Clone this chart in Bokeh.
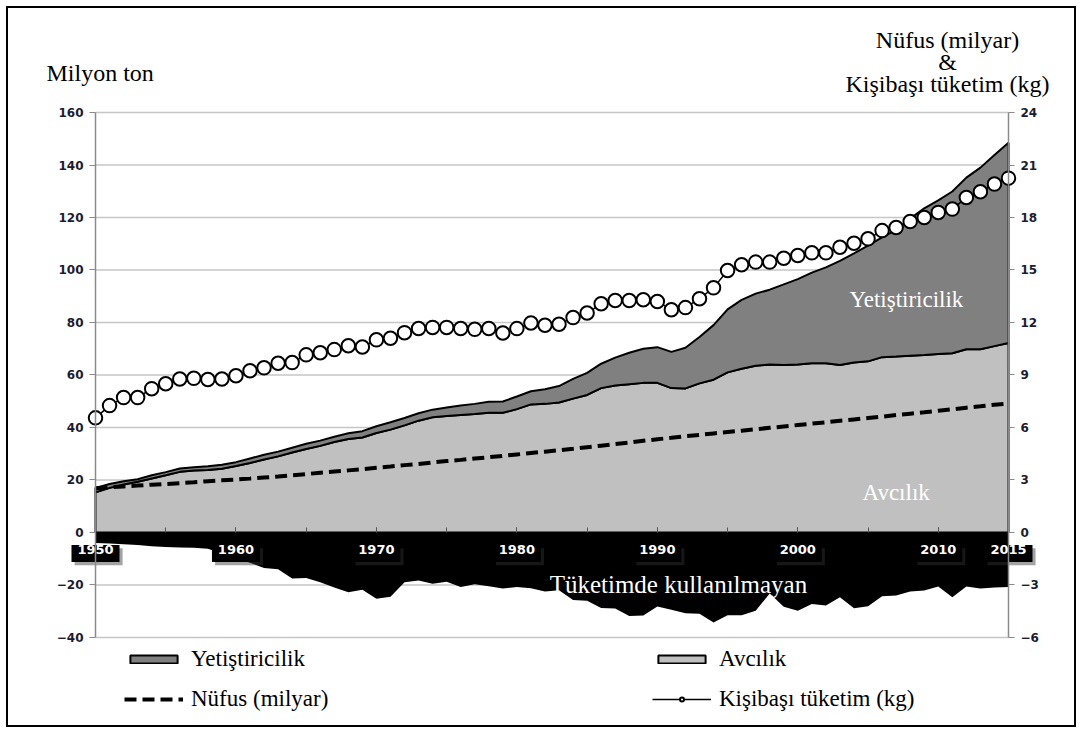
from bokeh.plotting import figure
from bokeh.models import (Range1d, LinearAxis, FixedTicker, Label, Legend, LegendItem,
                          Grid, ColumnDataSource)
from bokeh.embed import file_html
from bokeh.resources import INLINE

# ---------------- data ----------------
years = list(range(1950, 2016))

# Avcılık (capture), million tonnes
avcilik = [15.3, 17.0, 18.3, 19.3, 20.6, 21.8, 23.1, 23.6, 23.8, 24.3,
           25.3, 26.5, 27.8, 29.0, 30.5, 31.8, 33.0, 34.5, 35.6, 36.2,
           37.9, 39.2, 40.8, 42.6, 43.9, 44.4, 44.8, 45.1, 45.6, 45.6,
           47.0, 48.8, 49.0, 49.5, 51.0, 52.4, 55.0, 56.0, 56.5, 57.0,
           57.0, 55.0, 54.9, 56.8, 58.2, 61.0, 62.4, 63.5, 64.0, 63.8,
           64.0, 64.5, 64.5, 63.8, 64.8, 65.2, 66.8, 67.0, 67.3, 67.6,
           68.0, 68.3, 69.8, 69.8, 71.0, 72.2]

# Yetiştiricilik (aquaculture), million tonnes
yetistiricilik = [1.7, 1.5, 1.2, 1.0, 1.2, 1.2, 1.3, 1.3, 1.4, 1.5,
                  1.5, 1.7, 1.8, 1.8, 1.8, 2.0, 2.0, 2.0, 2.2, 2.4,
                  2.6, 2.8, 2.8, 2.8, 2.9, 3.2, 3.6, 3.9, 4.2, 4.3,
                  4.8, 5.0, 5.6, 6.3, 7.5, 8.4, 9.3, 10.6, 12.0, 13.0,
                  13.6, 13.8, 15.5, 17.7, 20.8, 24.0, 26.2, 27.5, 28.5, 30.7,
                  32.5, 34.5, 36.5, 39.7, 41.5, 44.1, 45.6, 48.3, 52.3, 55.9,
                  58.5, 61.6, 65.4, 69.2, 72.8, 76.3]

# Tüketimde kullanılmayan (non-food use), million tonnes, drawn below zero
kullanilmayan = [-4.0, -4.2, -4.5, -4.8, -5.2, -5.5, -5.7, -5.8, -6.2, -8.0,
                 -10.0, -11.5, -13.5, -14.0, -17.5, -17.3, -19.0, -21.0, -22.8, -21.8,
                 -25.2, -24.5, -19.0, -18.3, -19.5, -18.8, -20.8, -19.7, -20.5, -21.3,
                 -20.8, -21.2, -22.5, -22.0, -25.7, -26.0, -28.8, -29.0, -31.8, -31.6,
                 -28.2, -29.4, -30.8, -31.0, -34.3, -31.5, -31.5, -29.8, -23.2, -28.3,
                 -29.8, -27.2, -27.8, -24.7, -28.9, -28.1, -24.3, -24.0, -22.5, -22.1,
                 -20.6, -24.7, -20.6, -21.3, -21.0, -20.8]

# Nüfus (milyar)
nufus = [2.53, 2.58, 2.63, 2.68, 2.73, 2.77, 2.82, 2.87, 2.93, 2.98,
         3.03, 3.08, 3.14, 3.20, 3.27, 3.34, 3.41, 3.48, 3.55, 3.62,
         3.70, 3.77, 3.85, 3.92, 4.00, 4.08, 4.15, 4.23, 4.30, 4.38,
         4.46, 4.54, 4.62, 4.70, 4.78, 4.87, 4.96, 5.05, 5.14, 5.24,
         5.33, 5.41, 5.50, 5.58, 5.66, 5.74, 5.82, 5.90, 5.98, 6.06,
         6.14, 6.22, 6.30, 6.38, 6.46, 6.54, 6.62, 6.71, 6.79, 6.87,
         6.96, 7.04, 7.13, 7.21, 7.30, 7.36]

# Kişibaşı tüketim (kg)
kisibasi = [6.55, 7.25, 7.71, 7.71, 8.22, 8.50, 8.77, 8.81, 8.74, 8.77,
            8.96, 9.24, 9.41, 9.67, 9.71, 10.15, 10.27, 10.45, 10.67, 10.60,
            11.01, 11.10, 11.42, 11.66, 11.72, 11.72, 11.66, 11.61, 11.66, 11.40,
            11.65, 11.97, 11.84, 11.90, 12.28, 12.54, 13.07, 13.26, 13.26, 13.30,
            13.20, 12.73, 12.85, 13.36, 13.98, 14.97, 15.30, 15.45, 15.45, 15.67,
            15.83, 15.98, 15.98, 16.30, 16.53, 16.78, 17.25, 17.43, 17.77, 18.00,
            18.29, 18.48, 19.14, 19.47, 19.91, 20.25]

left_ticks = [-40, -20, 0, 20, 40, 60, 80, 100, 120, 140, 160]
right_ticks = [-6, -3, 0, 3, 6, 9, 12, 15, 18, 21, 24]
x_tick_years = [1950, 1960, 1970, 1980, 1990, 2000, 2010, 2015]
x_minor_years = list(range(1950, 2016, 5))

# ---------------- layout ----------------
W, H = 1070, 721
# visible range of the canvas (the data area 1950-2015 / -40..160 sits inside it)
X0, X1 = 1943.806, 2019.984
Y0, Y1 = -75.05, 199.62
R_SCALE = 0.15  # right axis = left axis * 0.15

SERIF = "Liberation Serif"
SANS = "DejaVu Sans"

p = figure(width=W, height=H, output_backend="svg", toolbar_location=None,
           x_range=Range1d(X0, X1), y_range=Range1d(Y0, Y1),
           x_axis_location=None, y_axis_location=None,
           min_border_left=0, min_border_right=0, min_border_top=0, min_border_bottom=0)
p.extra_y_ranges = {"right": Range1d(Y0 * R_SCALE, Y1 * R_SCALE)}
p.center = [c for c in p.center if not isinstance(c, Grid)]
p.outline_line_color = None
p.background_fill_color = "white"
p.border_fill_color = "white"
p.styles = {"border": "2px solid black", "margin-left": "6px", "margin-top": "6px"}

# gridlines across the data area
p.segment(x0=[years[0]] * len(left_ticks), x1=[years[-1]] * len(left_ticks),
          y0=left_ticks, y1=left_ticks, line_color="#c6c6c6", line_width=1.5)

def style_axis(ax):
    ax.axis_line_color = "#8a8a8a"
    ax.axis_line_width = 1.5
    ax.major_tick_line_color = "#8a8a8a"
    ax.major_tick_out = 6
    ax.major_tick_in = 0
    ax.minor_tick_line_color = None
    ax.major_label_text_font = SANS
    ax.major_label_text_font_style = "bold"
    ax.major_label_text_font_size = "12px"
    ax.major_label_text_color = "#1c1c30"
    ax.major_label_standoff = 6

# ---------------- areas ----------------
toplam = [a + b for a, b in zip(avcilik, yetistiricilik)]
zeros = [0] * len(years)

p.varea(x=years, y1=zeros, y2=kullanilmayan, fill_color="black")

cap = p.patch(x=years + years[::-1], y=avcilik + zeros,
              fill_color="#c0c0c0", line_color="black", line_width=2)
aqu = p.patch(x=years + years[::-1], y=toplam + avcilik[::-1],
              fill_color="#808080", line_color="black", line_width=2)

left_axis = LinearAxis(ticker=FixedTicker(ticks=left_ticks), fixed_location=years[0],
                       bounds=(left_ticks[0], left_ticks[-1]))
style_axis(left_axis)
p.add_layout(left_axis, "left")

right_axis = LinearAxis(y_range_name="right", ticker=FixedTicker(ticks=right_ticks),
                        fixed_location=years[-1], bounds=(right_ticks[0], right_ticks[-1]))
style_axis(right_axis)
p.add_layout(right_axis, "right")

# black boxes (with a soft shadow) behind the year labels
box_src = ColumnDataSource(dict(x=x_tick_years, y=[-8.0] * len(x_tick_years),
                                xs=[v + 0.22 for v in x_tick_years],
                                ys=[-9.2] * len(x_tick_years)))
p.rect(x="xs", y="ys", width=48, height=17, width_units="screen", height_units="screen",
       source=box_src, fill_color="#333333", fill_alpha=0.45, line_color=None)
p.rect(x="x", y="y", width=48, height=17, width_units="screen", height_units="screen",
       source=box_src, fill_color="black", line_color=None)

x_axis = LinearAxis(fixed_location=0, bounds=(years[0], years[-1]),
                    ticker=FixedTicker(ticks=x_tick_years, minor_ticks=x_minor_years))
x_axis.axis_line_color = "black"
x_axis.major_tick_in = 5
x_axis.major_tick_out = 0
x_axis.minor_tick_in = 5
x_axis.minor_tick_out = 0
x_axis.major_tick_line_color = "#555555"
x_axis.minor_tick_line_color = "#555555"
x_axis.major_label_text_font = SANS
x_axis.major_label_text_font_style = "bold"
x_axis.major_label_text_font_size = "13px"
x_axis.major_label_text_color = "white"
x_axis.major_label_standoff = 13
p.add_layout(x_axis, "below")

# ---------------- lines ----------------
nuf = p.line(years, nufus, y_range_name="right", line_color="black", line_width=4,
             line_dash="12 6")
kl = p.line(years, kisibasi, y_range_name="right", line_color="black", line_width=1.5)
kc = p.scatter(years, kisibasi, y_range_name="right", size=13.5, fill_color="white",
               line_color="black", line_width=2)

# ---------------- texts ----------------
def lab(text, x, y, units="data", align="center", color="black", size="24px"):
    p.add_layout(Label(x=x, y=y, x_units=units, y_units=units, text=text,
                       text_font=SERIF, text_font_size=size, text_color=color,
                       text_align=align, text_baseline="alphabetic"))

lab("Yetiştiricilik", 2007.73, 88.6, color="white", size="23px")
lab("Avcılık", 2007.0, 15.2, color="white", size="23px")
lab("Tüketimde kullanılmayan", 1991.5, -19.8, color="white", size="25px")

lab("Milyon ton", 38, 657, units="screen", align="left")
lab("Nüfus (milyar)", 939, 690, units="screen")
lab("&", 939, 668, units="screen")
lab("Kişibaşı tüketim (kg)", 939, 646, units="screen")

# ---------------- legend ----------------
legend = Legend(items=[LegendItem(label="Yetiştiricilik", renderers=[aqu]),
                       LegendItem(label="Avcılık", renderers=[cap]),
                       LegendItem(label="Nüfus (milyar)", renderers=[nuf]),
                       LegendItem(label="Kişibaşı tüketim (kg)", renderers=[kl, kc])],
                location=(116, 17), orientation="horizontal", ncols=2,
                background_fill_alpha=0, border_line_alpha=0, padding=0, margin=0,
                spacing=14, glyph_width=59, glyph_height=10, label_standoff=8,
                label_width=447, label_height=10,
                label_text_font=SERIF, label_text_font_size="23px", label_text_color="black")
p.add_layout(legend)

open("out.html", "w").write(file_html(p, INLINE))
